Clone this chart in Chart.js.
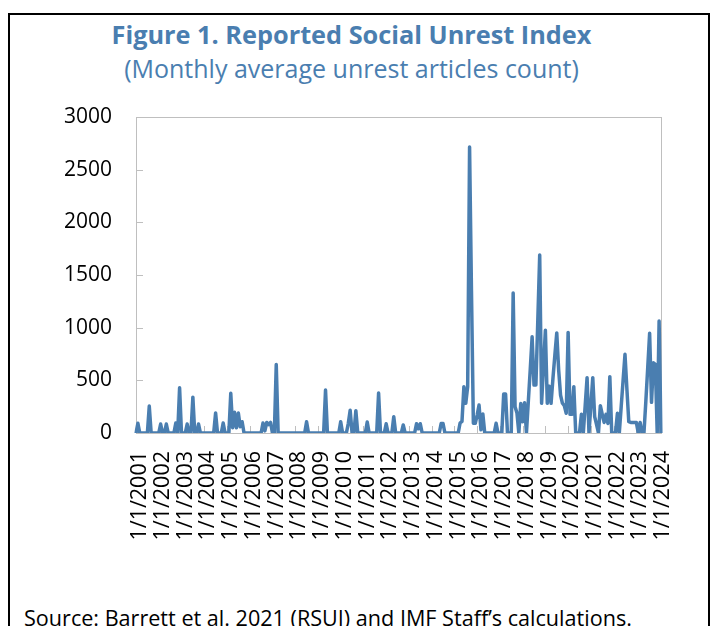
<!DOCTYPE html>
<html>
<head>
<meta charset="utf-8">
<script src="https://cdn.jsdelivr.net/npm/chart.js@4.4.0/dist/chart.umd.min.js"></script>
<style>
  html, body { margin: 0; padding: 0; background: #fff; }
  body { width: 711px; height: 626px; position: relative; overflow: hidden; font-family: "Open Sans", sans-serif; }
  #frame { position: absolute; left: 8px; top: 13px; width: 702px; height: 700px; border: 2px solid #000; box-sizing: border-box; }
  #title { position: absolute; left: 0; width: 703px; top: 17px; text-align: center; font-weight: 700; font-size: 25.3px; color: #4a7eb0; white-space: nowrap; }
  #subtitle { position: absolute; left: 0; width: 703px; top: 51px; text-align: center; font-size: 25px; color: #4a7eb0; white-space: nowrap; }
  #source { position: absolute; left: 24px; top: 603px; font-size: 21.6px; color: #000; white-space: nowrap; }
  #c { position: absolute; left: 0; top: 0; }
</style>
</head>
<body>
<div id="frame"></div>
<div id="title">Figure 1. Reported Social Unrest Index</div>
<div id="subtitle">(Monthly average unrest articles count)</div>
<div id="source">Source: Barrett et al. 2021 (RSUI) and IMF Staff’s calculations.</div>
<canvas id="c" width="711" height="626"></canvas>
<script>
// Year tick labels (one per January)
const tickLabels = ['1/1/2001','1/1/2002','1/1/2003','1/1/2004','1/1/2005','1/1/2006','1/1/2007','1/1/2008',
  '1/1/2009','1/1/2010','1/1/2011','1/1/2012','1/1/2013','1/1/2014','1/1/2015','1/1/2016','1/1/2017',
  '1/1/2018','1/1/2019','1/1/2020','1/1/2021','1/1/2022','1/1/2023','1/1/2024'];

// Monthly values, one row per year (Jan..Dec); series ends February 2024
const v2001 = [0, 92, 0, 0, 0, 0, 0, 256, 0, 0, 0, 0];
const v2002 = [0, 85, 0, 0, 85, 0, 0, 0, 0, 95, 0, 430];
const v2003 = [0, 0, 0, 85, 0, 0, 340, 0, 0, 85, 0, 0];
const v2004 = [0, 0, 0, 0, 0, 0, 190, 0, 0, 0, 95, 0];
const v2005 = [0, 0, 377, 50, 196, 50, 190, 60, 107, 0, 0, 0];
const v2006 = [0, 0, 0, 0, 0, 0, 0, 95, 20, 100, 80, 100];
const v2007 = [0, 0, 650, 0, 0, 0, 0, 0, 0, 0, 0, 0];
const v2008 = [0, 0, 0, 0, 0, 0, 107, 0, 0, 0, 0, 0];
const v2009 = [0, 0, 0, 0, 408, 0, 0, 0, 0, 0, 0, 0];
const v2010 = [107, 0, 0, 0, 90, 215, 0, 0, 212, 0, 0, 0];
const v2011 = [0, 0, 105, 0, 0, 0, 0, 0, 380, 0, 0, 0];
const v2012 = [88, 0, 0, 0, 155, 0, 0, 0, 0, 76, 0, 0];
const v2013 = [0, 0, 0, 0, 88, 40, 88, 0, 0, 0, 0, 0];
const v2014 = [0, 0, 0, 0, 0, 90, 90, 0, 0, 0, 0, 0];
const v2015 = [0, 0, 0, 95, 110, 440, 282, 440, 2715, 1350, 92, 92];
const v2016 = [170, 265, 30, 180, 0, 0, 0, 0, 0, 0, 92, 0];
const v2017 = [0, 0, 370, 370, 0, 0, 0, 1330, 250, 190, 0, 280];
const v2018 = [107, 288, 0, 300, 600, 914, 455, 455, 1070, 1690, 282, 630];
const v2019 = [975, 282, 445, 282, 520, 740, 950, 600, 360, 282, 259, 187];
const v2020 = [955, 177, 177, 440, 0, 0, 0, 177, 0, 260, 525, 0];
const v2021 = [260, 525, 155, 80, 0, 259, 177, 100, 177, 90, 535, 0];
const v2022 = [0, 0, 187, 0, 250, 500, 747, 420, 107, 100, 100, 100];
const v2023 = [100, 0, 100, 0, 0, 300, 620, 946, 291, 667, 652, 0];
const v2024 = [1063, 0];

const yearRows = [v2001, v2002, v2003, v2004, v2005, v2006, v2007, v2008, v2009, v2010, v2011, v2012,
  v2013, v2014, v2015, v2016, v2017, v2018, v2019, v2020, v2021, v2022, v2023, v2024];

// Build category labels (m/1/yyyy) and the flat series from the rows above
const categories = [];
const values = [];
yearRows.forEach((row, yi) => {
  const year = tickLabels[yi].split('/')[2];
  row.forEach((val, mi) => {
    categories.push((mi + 1) + '/1/' + year);
    values.push(val);
  });
});

const yTicks = [0, 500, 1000, 1500, 2000, 2500, 3000];

const FONT = "'Open Sans', sans-serif";
const PLOT = { left: 136, top: 117, right: 661, bottom: 433 };

const framePlugin = {
  id: 'frame',
  beforeDatasetsDraw(chart) {
    const { ctx, chartArea: a, scales } = chart;
    ctx.save();
    ctx.strokeStyle = '#bfbfbf';
    ctx.lineWidth = 1;
    ctx.strokeRect(Math.round(a.left) + 0.5, Math.round(a.top) + 0.5, Math.round(a.right - a.left), Math.round(a.bottom - a.top));
    ctx.beginPath();
    categories.forEach((c, i) => {
      if (tickLabels.includes(c)) {
        const x = Math.round(scales.x.getPixelForValue(i)) + 0.5;
        ctx.moveTo(x, a.bottom);
        ctx.lineTo(x, a.bottom - 7);
      }
    });
    yTicks.forEach(t => {
      const y = Math.round(scales.y.getPixelForValue(t)) + 0.5;
      ctx.moveTo(a.left, y);
      ctx.lineTo(a.left + 7, y);
    });
    ctx.stroke();
    ctx.restore();
  }
};

new Chart(document.getElementById('c'), {
  type: 'line',
  data: {
    labels: categories,
    datasets: [{
      data: values,
      borderColor: '#4a7eb0',
      borderWidth: 3.5,
      pointRadius: 0,
      tension: 0,
      fill: false,
      borderJoinStyle: 'round',
      borderCapStyle: 'round'
    }]
  },
  options: {
    responsive: false,
    animation: false,
    devicePixelRatio: 1,
    layout: { padding: { left: 0, top: PLOT.top, right: 711 - PLOT.right, bottom: 0 } },
    plugins: { legend: { display: false }, tooltip: { enabled: false }, title: { display: false } },
    scales: {
      x: {
        type: 'category',
        offset: false,
        grid: { display: false },
        border: { display: false },
        afterFit(s) { s.height = 626 - PLOT.bottom; },
        ticks: {
          autoSkip: false,
          minRotation: 90,
          maxRotation: 90,
          padding: 10,
          labelOffset: 4,
          color: '#000',
          font: { family: FONT, size: 21.5 },
          callback(value, index) {
            const lab = categories[index];
            return tickLabels.includes(lab) ? lab : null;
          }
        }
      },
      y: {
        min: 0,
        max: 3000,
        grid: { display: false, drawTicks: false },
        border: { display: false },
        afterFit(s) { s.width = PLOT.left; },
        afterBuildTicks(s) { s.ticks = yTicks.map(v => ({ value: v })); },
        ticks: {
          padding: 24,
          color: '#000',
          font: { family: FONT, size: 21 },
          callback(v) { return String(v); }
        }
      }
    }
  },
  plugins: [framePlugin]
});
</script>
</body>
</html>
